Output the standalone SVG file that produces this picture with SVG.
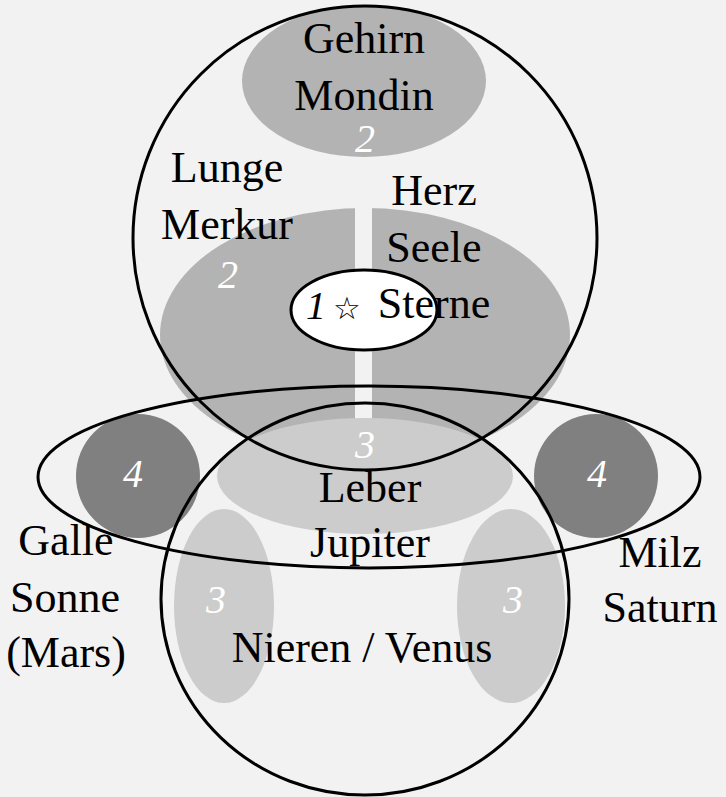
<svg xmlns="http://www.w3.org/2000/svg" width="726" height="797" viewBox="0 0 726 797">
<style>
.t{font-family:"Liberation Serif","Times New Roman",serif;font-size:44px;fill:#000;text-anchor:middle}
.n{font-family:"Liberation Serif","Times New Roman",serif;font-size:40px;font-style:italic;fill:#fff;text-anchor:middle}
.o{fill:none;stroke:#000;stroke-width:3}
.g{fill:#b3b3b3}
.l{fill:#cccccc}
.d{fill:#808080}
</style>
<rect x="0" y="0" width="726" height="797" fill="#f2f2f2"/>
<g id="organs">
<ellipse id="gehirn-shape" class="g" cx="364" cy="81" rx="122" ry="76"/>
<ellipse id="lunge-herz-shape" class="g" cx="365" cy="335" rx="205" ry="127"/>
<rect id="gap" x="355" y="200" width="17" height="230" fill="#f2f2f2"/>
<ellipse id="leber-shape" class="l" cx="365" cy="476" rx="148" ry="58"/>
<ellipse id="galle-shape" class="d" cx="138" cy="476" rx="62" ry="62"/>
<ellipse id="milz-shape" class="d" cx="596" cy="476" rx="62" ry="62"/>
<ellipse id="niere-l" class="l" cx="224" cy="606" rx="50" ry="97"/>
<ellipse id="niere-r" class="l" cx="511" cy="606" rx="54" ry="97"/>
</g>
<g id="outlines">
<ellipse id="top-circle" class="o" cx="365" cy="238" rx="232" ry="232"/>
<ellipse id="bottom-circle" class="o" cx="365" cy="599" rx="204" ry="196"/>
<ellipse id="middle-ellipse" class="o" cx="369" cy="477" rx="331" ry="91"/>
</g>
<g id="sterne">
<ellipse cx="364" cy="310" rx="73" ry="40" fill="#fff" stroke="#000" stroke-width="3"/>
</g>
<g id="labels">
<text class="t" x="364" y="53">Gehirn</text>
<text class="t" x="364" y="110">Mondin</text>
<text class="n" x="365" y="152">2</text>
<text class="t" x="227" y="182">Lunge</text>
<text class="t" x="227" y="239">Merkur</text>
<text class="n" x="228" y="288">2</text>
<text class="t" x="434" y="205">Herz</text>
<text class="t" x="434" y="262">Seele</text>
<text class="t" x="434" y="318">Sterne</text>
<text x="306" y="319" font-family="Liberation Serif, serif" font-size="40" font-style="italic" fill="#000">1</text>
<text x="347" y="319" font-family="DejaVu Sans, sans-serif" font-size="31" text-anchor="middle" fill="#000">☆</text>
<text class="n" x="365" y="458">3</text>
<text class="t" x="370" y="502">Leber</text>
<text class="t" x="370" y="557">Jupiter</text>
<text class="n" x="133" y="487">4</text>
<text class="n" x="597" y="487">4</text>
<text class="t" x="66" y="555">Galle</text>
<text class="t" x="65" y="612">Sonne</text>
<text class="t" x="66" y="667">(Mars)</text>
<text class="t" x="660" y="567">Milz</text>
<text class="t" x="660" y="622">Saturn</text>
<text class="t" x="362" y="662">Nieren / Venus</text>
<text class="n" x="216" y="613">3</text>
<text class="n" x="513" y="613">3</text>
</g>
</svg>
